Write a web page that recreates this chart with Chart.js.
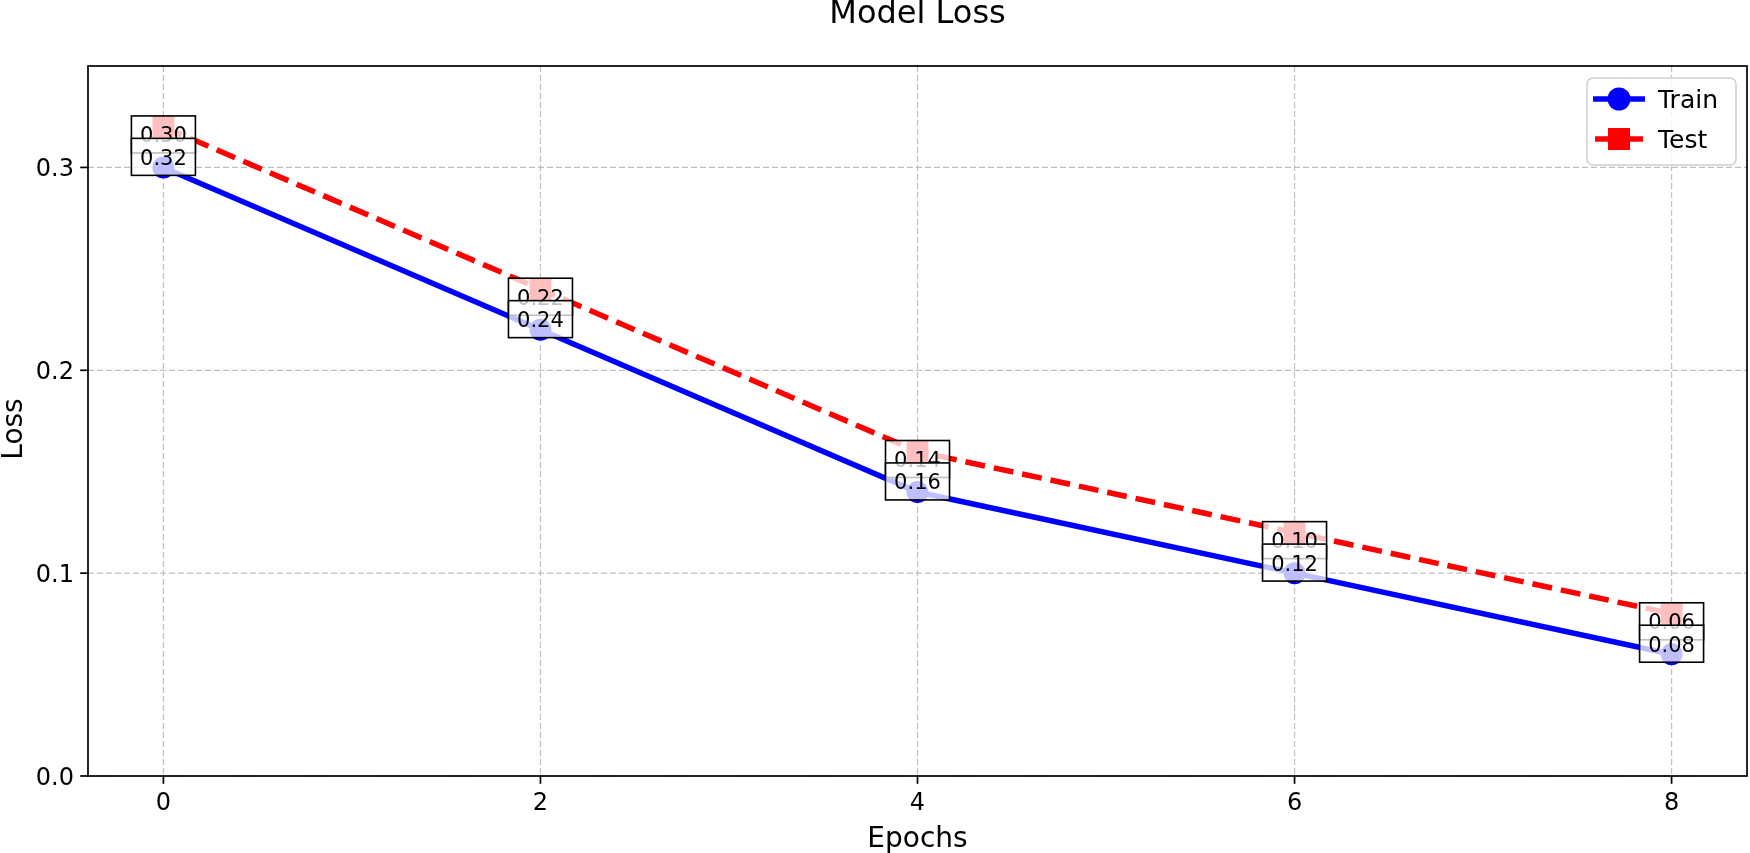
<!DOCTYPE html>
<html><head><meta charset="utf-8">
<script src="https://cdn.jsdelivr.net/npm/chart.js@4"></script>
<style>html,body{margin:0;padding:0;background:#fff;overflow:hidden}canvas{display:block}</style>
</head><body>
<canvas id="c" width="1750" height="853"></canvas>
<script>
const epochs = [0, 2, 4, 6, 8];
const trainLoss = [0.30, 0.22, 0.14, 0.10, 0.06];
const testLoss = [0.32, 0.24, 0.16, 0.12, 0.08];
const xTicks = [0, 2, 4, 6, 8];
const yTicks = [0.0, 0.1, 0.2, 0.3];
const seriesNames = ['Train', 'Test'];
const titleText = 'Model Loss';
const xLabel = 'Epochs';
const yLabel = 'Loss';

const FONT = '"DejaVu Sans", sans-serif';
const TRAIN_COLOR = '#0000ff';
const TEST_COLOR = '#ff0000';

function box(ctx, cx, cy, text) {
  const w = 64, h = 37;
  ctx.fillStyle = 'rgba(255,255,255,0.75)';
  ctx.fillRect(cx - w / 2, cy - h / 2, w, h);
  ctx.strokeStyle = '#000';
  ctx.lineWidth = 1.6;
  ctx.setLineDash([]);
  ctx.strokeRect(cx - w / 2, cy - h / 2, w, h);
  ctx.fillStyle = '#000';
  ctx.font = '21px ' + FONT;
  ctx.textAlign = 'center';
  ctx.textBaseline = 'alphabetic';
  ctx.fillText(text, cx, cy + 8);
}

const deco = {
  id: 'deco',
  beforeDatasetsDraw(chart) {
    const {ctx, chartArea: a, scales: {x, y}} = chart;
    ctx.save();
    ctx.strokeStyle = 'rgba(176,176,176,0.8)';
    ctx.lineWidth = 1.2;
    ctx.setLineDash([6, 3]);
    xTicks.forEach(v => {
      const px = x.getPixelForValue(v);
      ctx.beginPath(); ctx.moveTo(px, a.top); ctx.lineTo(px, a.bottom); ctx.stroke();
    });
    yTicks.forEach(v => {
      const py = y.getPixelForValue(v);
      ctx.beginPath(); ctx.moveTo(a.left, py); ctx.lineTo(a.right, py); ctx.stroke();
    });
    ctx.restore();
  },
  afterDatasetsDraw(chart) {
    const {ctx, chartArea: a, scales: {x, y}} = chart;
    ctx.save();
    // annotations
    epochs.forEach((e, i) => {
      const px = x.getPixelForValue(e);
      box(ctx, px, y.getPixelForValue(trainLoss[i]) - 33, trainLoss[i].toFixed(2));
      box(ctx, px, y.getPixelForValue(testLoss[i]) + 30, testLoss[i].toFixed(2));
    });
    // spines
    ctx.setLineDash([]);
    ctx.strokeStyle = '#000';
    ctx.lineWidth = 1.7;
    ctx.strokeRect(a.left, a.top, a.right - a.left, a.bottom - a.top);
    // ticks
    ctx.fillStyle = '#000';
    ctx.font = '24px ' + FONT;
    xTicks.forEach(v => {
      const px = x.getPixelForValue(v);
      ctx.beginPath(); ctx.moveTo(px, a.bottom); ctx.lineTo(px, a.bottom + 7.8); ctx.stroke();
      ctx.textAlign = 'center'; ctx.textBaseline = 'alphabetic';
      ctx.fillText(String(v), px, 810);
    });
    yTicks.forEach(v => {
      const py = y.getPixelForValue(v);
      ctx.beginPath(); ctx.moveTo(a.left - 7.8, py); ctx.lineTo(a.left, py); ctx.stroke();
      ctx.textAlign = 'right'; ctx.textBaseline = 'alphabetic';
      ctx.fillText(v.toFixed(1), a.left - 14, py + 9);
    });
    // axis labels
    ctx.font = '28px ' + FONT;
    ctx.textAlign = 'center';
    ctx.fillText(xLabel, (a.left + a.right) / 2, 847);
    ctx.save();
    ctx.translate(22, (a.top + a.bottom) / 2 + 8);
    ctx.rotate(-Math.PI / 2);
    ctx.fillText(yLabel, 0, 0);
    ctx.restore();
    // title
    ctx.font = '32px ' + FONT;
    ctx.fillText(titleText, (a.left + a.right) / 2, 23);
    // legend
    const lx = 1587, ly = 78, lw = 149, lh = 87, r = 6;
    ctx.beginPath();
    ctx.moveTo(lx + r, ly);
    ctx.arcTo(lx + lw, ly, lx + lw, ly + lh, r);
    ctx.arcTo(lx + lw, ly + lh, lx, ly + lh, r);
    ctx.arcTo(lx, ly + lh, lx, ly, r);
    ctx.arcTo(lx, ly, lx + lw, ly, r);
    ctx.closePath();
    ctx.fillStyle = 'rgba(255,255,255,0.8)';
    ctx.fill();
    ctx.strokeStyle = '#d0d0d0';
    ctx.lineWidth = 1.5;
    ctx.stroke();
    // train entry
    ctx.strokeStyle = TRAIN_COLOR; ctx.fillStyle = TRAIN_COLOR;
    ctx.lineWidth = 5.5; ctx.lineCap = 'butt';
    ctx.beginPath(); ctx.moveTo(1593, 99); ctx.lineTo(1645, 99); ctx.stroke();
    ctx.beginPath(); ctx.arc(1619, 99, 11.5, 0, Math.PI * 2); ctx.fill();
    // test entry
    ctx.strokeStyle = TEST_COLOR; ctx.fillStyle = TEST_COLOR;
    ctx.beginPath(); ctx.moveTo(1595, 139); ctx.lineTo(1643, 139); ctx.stroke();
    ctx.fillRect(1608, 128, 22, 22);
    ctx.fillStyle = '#000';
    ctx.font = '25px ' + FONT;
    ctx.textAlign = 'left';
    ctx.fillText(seriesNames[0], 1658, 108);
    ctx.fillText(seriesNames[1], 1658, 148);
    ctx.restore();
  }
};

new Chart(document.getElementById('c'), {
  type: 'line',
  data: {
    datasets: [
      {
        label: seriesNames[0],
        data: epochs.map((e, i) => ({x: e, y: trainLoss[i]})),
        borderColor: TRAIN_COLOR,
        backgroundColor: TRAIN_COLOR,
        borderWidth: 5.5,
        pointStyle: 'circle',
        pointRadius: 11,
        pointBorderWidth: 0,
        pointHoverRadius: 11,
        tension: 0,
        order: 2
      },
      {
        label: seriesNames[1],
        data: epochs.map((e, i) => ({x: e, y: testLoss[i]})),
        borderColor: TEST_COLOR,
        backgroundColor: TEST_COLOR,
        borderWidth: 5.5,
        borderDash: [20, 9],
        pointStyle: 'rect',
        pointRadius: 15.5,
        pointBorderWidth: 0,
        pointHoverRadius: 15.5,
        tension: 0,
        order: 1
      }
    ]
  },
  options: {
    responsive: false,
    animation: false,
    devicePixelRatio: 1,
    layout: {autoPadding: false, padding: {left: 88, top: 66, right: 3, bottom: 77}},
    plugins: {legend: {display: false}, title: {display: false}, tooltip: {enabled: false}},
    scales: {
      x: {type: 'linear', min: -0.4, max: 8.4, display: false},
      y: {type: 'linear', min: 0, max: 0.35, display: false}
    }
  },
  plugins: [deco]
});
</script>
</body></html>
